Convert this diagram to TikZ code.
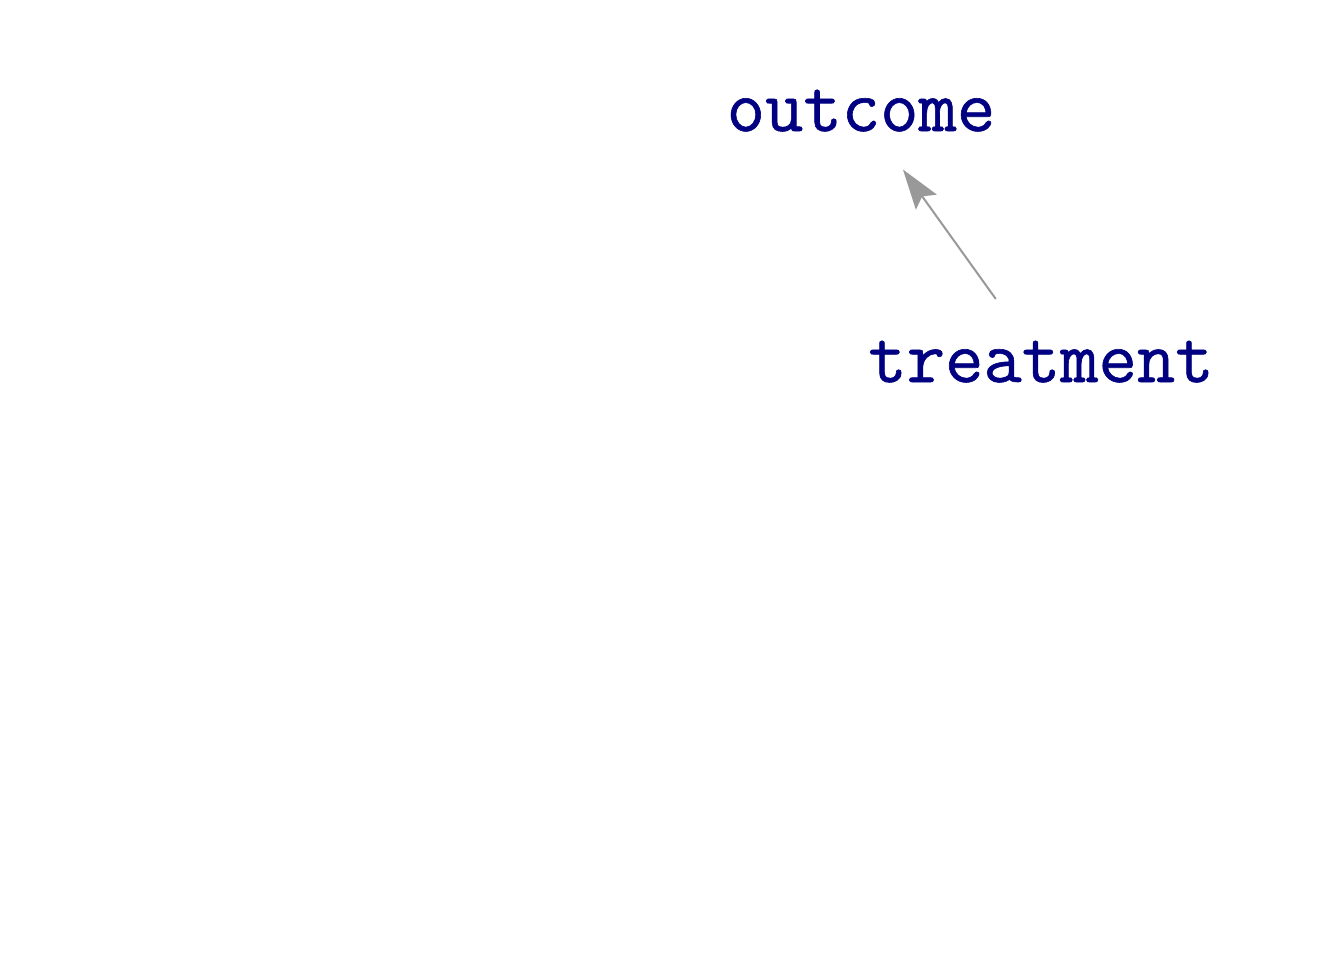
\documentclass[tikz,border=0pt]{standalone}
\usepackage{fontspec}
\newfontfamily\labelfont{Latin Modern Mono}[FakeBold=0.8]
\usetikzlibrary{arrows.meta}
\definecolor{labelblue}{HTML}{000080}
\definecolor{edgegray}{HTML}{999999}
\begin{document}
\begin{tikzpicture}[>={Stealth[length=11.4pt,width=7.3pt,inset=2pt]}, line join=round, line cap=round,
	lab/.style={font=\labelfont\fontsize{21.2}{23}\selectfont, text=labelblue, inner sep=0pt, text height=11.4pt, text depth=0pt}]
	\useasboundingbox (0,0) rectangle (13.44,9.6);
	\node[lab] (outcome) at (8.61,8.49) {outcome};
	\node[lab] (treatment) at (10.41,5.98) {treatment};
	\draw[->, edgegray, line width=0.57pt, shorten <=0.78cm, shorten >=0.72cm] (treatment.center) -- (outcome.center);
\end{tikzpicture}
\end{document}
